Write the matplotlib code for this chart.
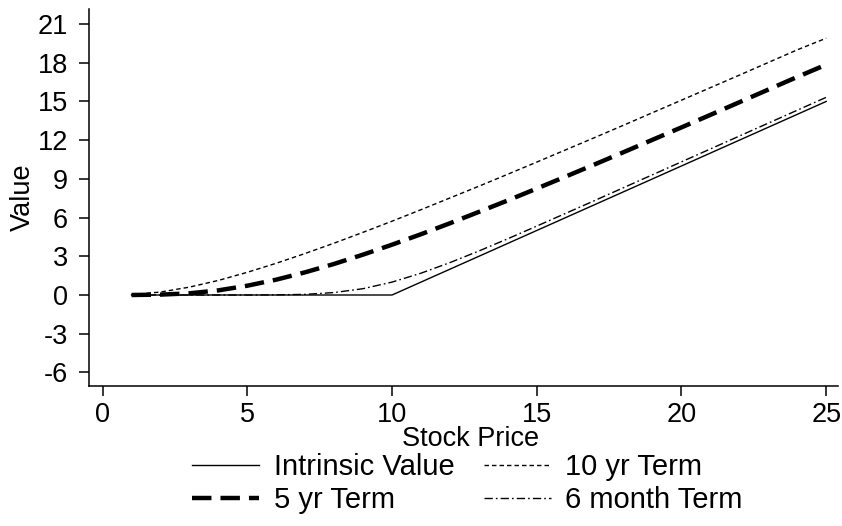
import matplotlib.pyplot as plt

plt.rcParams['font.family'] = ['Liberation Sans', 'DejaVu Sans']
plt.rcParams['lines.scale_dashes'] = False
plt.rcParams['axes.unicode_minus'] = False

# stock price grid and values
stock_price = list(range(1, 26))
intrinsic = [0, 0, 0, 0, 0, 0, 0, 0, 0, 0,
             1, 2, 3, 4, 5, 6, 7, 8, 9, 10, 11, 12, 13, 14, 15]
term_10yr = [0.03, 0.23, 0.61, 1.13, 1.76, 2.46, 3.22, 4.02, 4.86, 5.72,
             6.61, 7.52, 8.43, 9.36, 10.30, 11.25, 12.20, 13.16, 14.13, 15.10,
             16.07, 17.04, 18.02, 19.00, 19.90]
term_5yr = [0.00, 0.03, 0.13, 0.36, 0.72, 1.19, 1.76, 2.41, 3.13, 3.90,
            4.71, 5.56, 6.44, 7.33, 8.25, 9.18, 10.12, 11.07, 12.03, 12.99,
            13.96, 14.94, 15.92, 16.90, 17.85]
term_6mo = [0.00, 0.00, 0.00, 0.00, 0.00, 0.01, 0.05, 0.19, 0.49, 1.00,
            1.69, 2.51, 3.41, 4.36, 5.34, 6.33, 7.32, 8.32, 9.32, 10.32,
            11.32, 12.32, 13.32, 14.32, 15.32]

x_ticks = [0, 5, 10, 15, 20, 25]
y_ticks = [-6, -3, 0, 3, 6, 9, 12, 15, 18, 21]

fig = plt.figure(figsize=(8.42, 5.26), dpi=100)
ax = fig.add_axes([0.1057, 0.2667, 0.8893, 0.7156])

l1, = ax.plot(stock_price, intrinsic, color='black', lw=1.0, label='Intrinsic Value')
l2, = ax.plot(stock_price, term_10yr, color='black', lw=1.0,
              dashes=(3.2, 2.2), label='10 yr Term')
l3, = ax.plot(stock_price, term_5yr, color='black', lw=3.2,
              dashes=(14, 6.5), label='5 yr Term')
l4, = ax.plot(stock_price, term_6mo, color='black', lw=1.0,
              dashes=(6, 2.2, 1.2, 2.2), label='6 month Term')

ax.set_xlim(-0.47, 25.4)
ax.set_ylim(-7.03, 22.14)
ax.set_xticks(x_ticks)
ax.set_yticks(y_ticks)
ax.spines['top'].set_visible(False)
ax.spines['right'].set_visible(False)
for s in ['left', 'bottom']:
    ax.spines[s].set_linewidth(1.1)
ax.tick_params(axis='both', direction='out', length=7, width=1.1,
               labelsize=19.5, color='black')
ax.tick_params(axis='x', pad=5)
ax.tick_params(axis='y', pad=8)

ax.set_xlabel('Stock Price', fontsize=19.5)
ax.xaxis.set_label_coords(0.509, -0.108)
ax.set_ylabel('Value', fontsize=19.5)
ax.yaxis.set_label_coords(-0.071, 0.5)

fig.legend(handles=[l1, l3, l2, l4], ncol=2, loc='center',
           bbox_to_anchor=(0.555, 0.080), frameon=False, fontsize=21,
           handlelength=2.3, handletextpad=0.5, columnspacing=1.0,
           labelspacing=0.17, borderpad=0)

fig.savefig('out.png', dpi=100)
